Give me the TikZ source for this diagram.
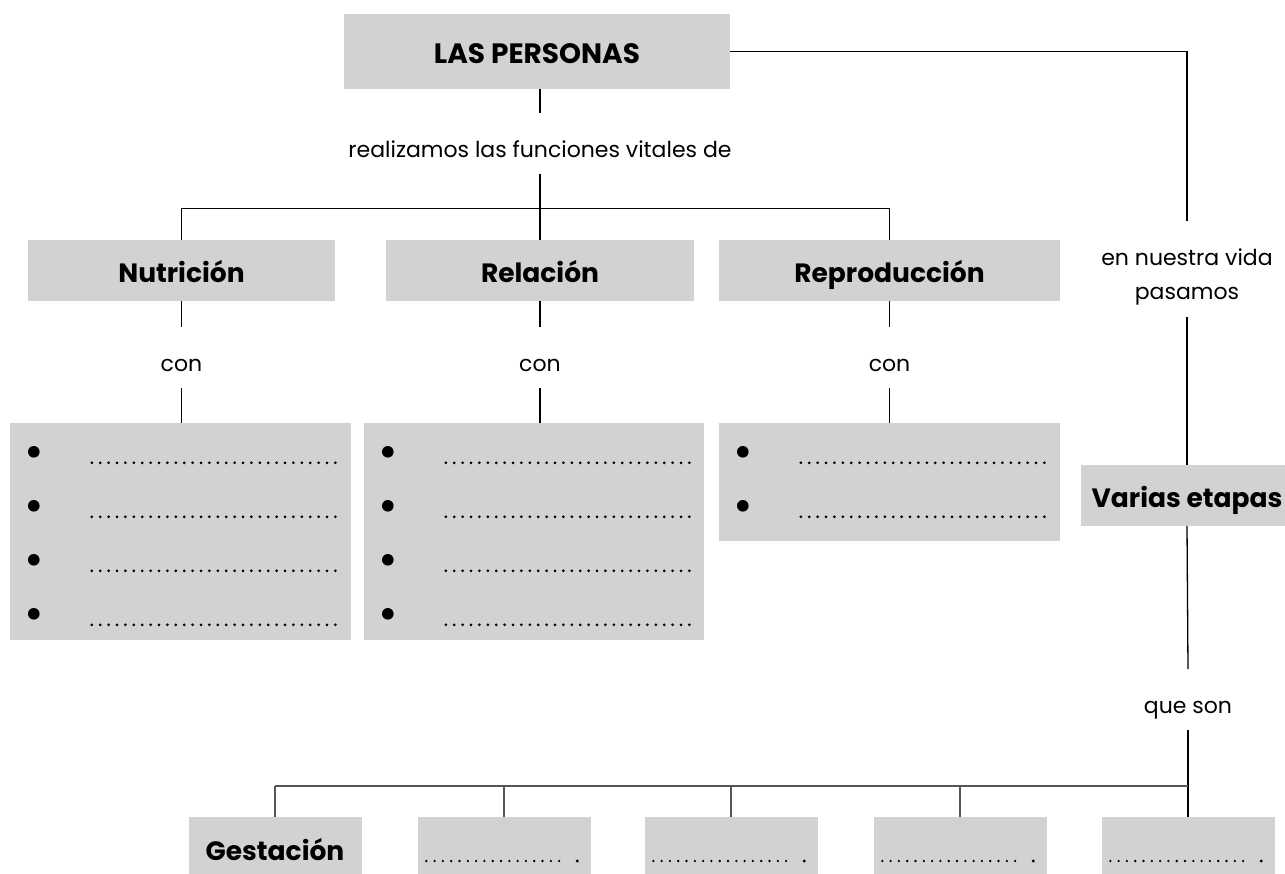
\documentclass[tikz,border=0pt]{standalone}
\usepackage{fontspec}
\setmainfont{Poppins}
\definecolor{gris}{RGB}{209,210,212}
\definecolor{grisosc}{RGB}{85,85,85}

\begin{document}
\begin{tikzpicture}[x=1pt,y=-1pt,
    caja/.style={fill=gris, inner sep=0pt, minimum height=61pt, text height=24pt, text depth=0pt,
      font=\bfseries\fontsize{26.5}{30}\selectfont},
    lista/.style={fill=gris, inner sep=0pt},
    texto/.style={inner sep=0pt, anchor=north, font=\fontsize{22}{26}\selectfont, text height=44pt, text depth=17pt},
    linea/.style={line width=1.3pt},
    rama/.style={line width=2.4pt, color=grisosc},
    gota/.style={line width=1.2pt, color=grisosc},
    puntos/.style={line width=3pt, line cap=round, dash pattern=on 0pt off 8.4pt},
    puntitos/.style={line width=2.6pt, line cap=round, dash pattern=on 0pt off 8.3pt}]

  \useasboundingbox (0,0) rectangle (1285,874);

  \node[caja, minimum width=386pt, minimum height=75pt, font=\bfseries\fontsize{28}{30}\selectfont] (personas) at (537,51.5) {LAS PERSONAS};
  \node[texto] (realizamos) at (540,113) {realizamos las funciones vitales de};

  \node[caja, minimum width=307pt] (nutricion) at (181.5,270.5) {Nutrición};
  \node[caja, minimum width=308pt] (relacion) at (540,270.5) {Relación};
  \node[caja, minimum width=341pt] (reproduccion) at (889.5,270.5) {Reproducción};

  \node[texto] (con1) at (181.5,327) {con};
  \node[texto] (con2) at (540,327) {con};
  \node[texto] (con3) at (889.5,327) {con};

  \node[lista, minimum width=341pt, minimum height=217pt] (lista1) at (180.5,531.5) {};
  \node[lista, minimum width=340pt, minimum height=217pt] (lista2) at (534,531.5) {};
  \node[lista, minimum width=341pt, minimum height=118pt] (lista3) at (889.5,482) {};

  \node[texto] (vida) at (1187,221) {en nuestra vida};
  \node[texto, anchor=base] (pasamos) at (1187,300) {pasamos};
  \node[caja, minimum width=212pt] (varias) at (1187,495.5) {Varias etapas};
  \node[texto] (queson) at (1188,669) {que son};

  \node[caja, minimum width=173pt, minimum height=63pt] (etapa1) at (275,848.5) {Gestación};
  \foreach \x [count=\e from 2] in {504,731,960,1188}
    \node[caja, minimum width=173pt, minimum height=63pt] (etapa\e) at (\x,848.5) {};
  \coordinate (nudo) at (1188,786);

  % conectores
  \draw[linea] (personas.south -| realizamos) -- (realizamos.north);
  \draw[linea] (realizamos.south) -- (relacion.north);
  \draw[linea] (nutricion.north) -- ++(0,-31) -| (reproduccion.north);
  \foreach \n in {1,2,3} {
    \draw[linea] (con\n.north |- nutricion.south) -- (con\n.north);
    \draw[linea] (con\n.south) -- (con\n.south |- lista\n.north);
  }
  \draw[linea] (personas.east) -| (vida.north);
  \draw[linea] (pasamos.south) -- (varias.north);
  \draw[linea] (varias.south) -- (queson.north);
  \draw[linea] (queson.south) -- (etapa5.north);
  \draw[rama] (etapa1.north |- nudo) -- (nudo);
  \foreach \e in {1,...,4}
    \draw[gota] (etapa\e.north) -- (etapa\e.north |- nudo);

  % listas
  \foreach \n/\k in {lista1/4,lista2/4,lista3/2}
    \foreach \i in {1,...,\k} {
      \fill ([xshift=24pt, yshift={-29pt-54pt*(\i-1)}]\n.north west) circle (5.8);
      \draw[puntos] ([xshift=82pt, yshift={-40pt-54pt*(\i-1)}]\n.north west) -- ++(245,0);
    }
  \foreach \e in {2,...,5} {
    \draw[puntitos] ([xshift=9pt, yshift=-12.5pt]etapa\e.west) -- ++(141,0);
    \fill ([xshift=160pt, yshift=-12.5pt]etapa\e.west) circle (1.6);
  }
\end{tikzpicture}
\end{document}
